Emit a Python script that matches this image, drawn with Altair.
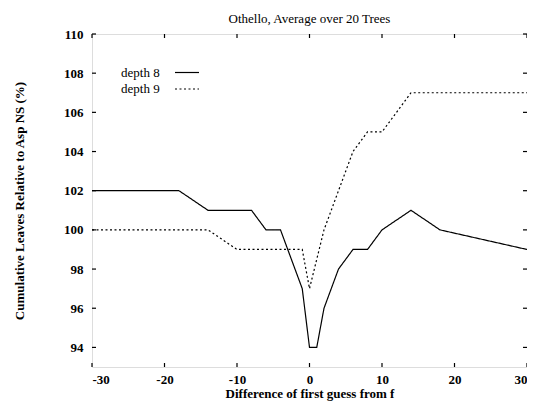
import altair as alt
import pandas as pd

# Data
x_d8 = [-30, -18, -14, -8, -6, -4, -1, 0, 1, 2, 4, 6, 7, 8, 10, 14, 18, 30]
y_d8 = [102, 102, 101, 101, 100, 100, 97, 94, 94, 96, 98, 99, 99, 99, 100, 101, 100, 99]

x_d9 = [-30, -14, -10, -8, -4, -1, 0, 2, 4, 6, 8, 10, 14, 30]
y_d9 = [100, 100, 99, 99, 99, 99, 97, 100, 102, 104, 105, 105, 107, 107]

series_names = ["depth 8", "depth 9"]
x_ticks = [-30, -20, -10, 0, 10, 20, 30]
y_ticks = [94, 96, 98, 100, 102, 104, 106, 108, 110]

title_text = "Othello, Average over 20 Trees"
x_title = "Difference of first guess from f"
y_title = "Cumulative Leaves Relative to Asp NS (%)"

W, H = 435, 333
FONT = "Liberation Serif"
TK = 4

df = pd.concat([
    pd.DataFrame({"x": x_d8, "y": y_d8, "s": series_names[0]}),
    pd.DataFrame({"x": x_d9, "y": y_d9, "s": series_names[1]}),
])

xs = alt.Scale(domain=[-30, 30], nice=False, zero=False)
ys = alt.Scale(domain=[93, 110], nice=False, zero=False)

lines = alt.Chart(df).mark_line(color="black", strokeWidth=1.2).encode(
    x=alt.X("x:Q", scale=xs, axis=alt.Axis(
        values=x_ticks, labelExpr="datum.value + ''", title=x_title, grid=False, ticks=False, tickSize=0,
        domain=False, labelPadding=6, labelFont=FONT, labelFontSize=13, labelFontWeight="bold",
        labelColor="black", titleFont=FONT, titleFontSize=13, titleFontWeight="bold",
        titleColor="black", titleX=W / 2, titleY=26, titleBaseline="middle")),
    y=alt.Y("y:Q", scale=ys, axis=alt.Axis(
        values=y_ticks, format="d", title=y_title, grid=False, ticks=False, tickSize=0,
        domain=False, labelPadding=9, labelFont=FONT, labelFontSize=13, labelFontWeight="bold",
        labelColor="black", titleFont=FONT, titleFontSize=13, titleFontWeight="bold",
        titleColor="black", titleX=-73, titleY=H / 2, titleAngle=-90,
        titleAlign="center", titleBaseline="middle")),
    strokeDash=alt.StrokeDash("s:N", scale=alt.Scale(domain=series_names, range=[[1, 0], [2, 2.5]]), legend=None),
    detail="s:N",
)

ydf = pd.DataFrame({"v": y_ticks})
xdf = pd.DataFrame({"v": x_ticks})
rule_style = dict(color="black", strokeWidth=1.2)
yt_left = alt.Chart(ydf).mark_rule(**rule_style).encode(y=alt.Y("v:Q", scale=ys), x=alt.value(0), x2=alt.value(TK))
yt_right = alt.Chart(ydf).mark_rule(**rule_style).encode(y=alt.Y("v:Q", scale=ys), x=alt.value(W - TK), x2=alt.value(W))
xt_bot = alt.Chart(xdf).mark_rule(**rule_style).encode(x=alt.X("v:Q", scale=xs), y=alt.value(H - TK), y2=alt.value(H))
xt_top = alt.Chart(xdf).mark_rule(**rule_style).encode(x=alt.X("v:Q", scale=xs), y=alt.value(0), y2=alt.value(TK))

leg8_t = alt.Chart(pd.DataFrame({"t": [series_names[0]]})).mark_text(
    align="left", baseline="middle", font=FONT, fontSize=13, color="black").encode(
    text="t:N", x=alt.value(29), y=alt.value(39))
leg9_t = alt.Chart(pd.DataFrame({"t": [series_names[1]]})).mark_text(
    align="left", baseline="middle", font=FONT, fontSize=13, color="black").encode(
    text="t:N", x=alt.value(29), y=alt.value(55))
leg8_l = alt.Chart(pd.DataFrame({"t": [series_names[0]]})).mark_rule(color="black", strokeWidth=1.2).encode(
    x=alt.value(83), x2=alt.value(107), y=alt.value(38.5))
leg9_l = alt.Chart(pd.DataFrame({"t": [series_names[1]]})).mark_rule(
    color="black", strokeWidth=1.2, strokeDash=[2, 2.5]).encode(
    x=alt.value(83), x2=alt.value(107), y=alt.value(55))

chart = alt.layer(lines, yt_left, yt_right, xt_bot, xt_top, leg8_t, leg9_t, leg8_l, leg9_l).properties(
    width=W, height=H,
    title=alt.TitleParams(title_text, font=FONT, fontSize=13, fontWeight="normal", color="black",
                          anchor="middle", offset=2),
    autosize=alt.AutoSizeParams(type="none"),
    padding={"left": 84, "top": 26, "right": 0, "bottom": 35},
).configure_view(stroke="black", strokeWidth=1.5).configure(background="white")

chart.save("out.html", embed_options={"renderer": "svg", "actions": False})
